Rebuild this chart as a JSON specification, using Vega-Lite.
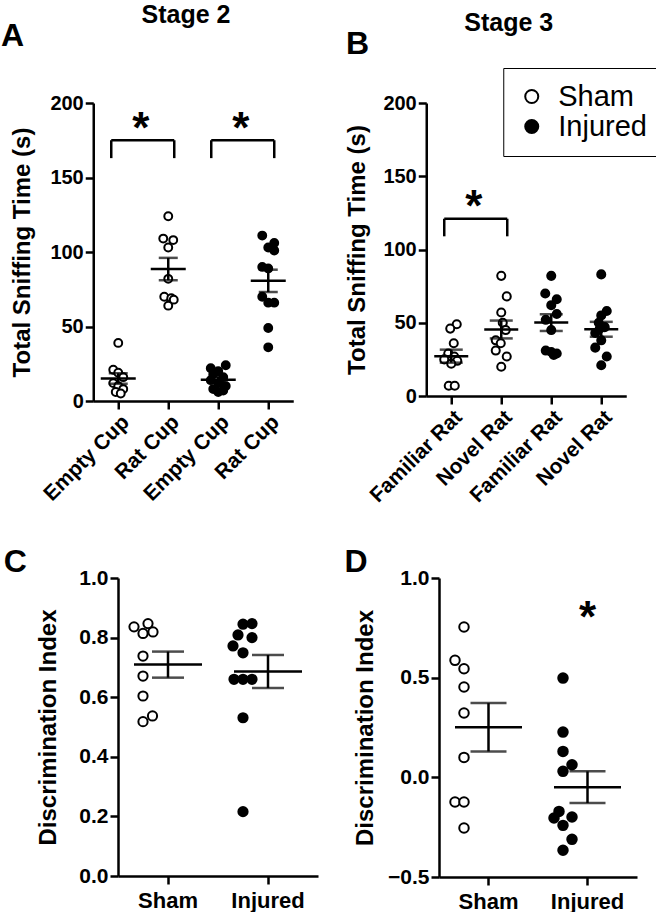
{
  "$schema": "https://vega.github.io/schema/vega-lite/v6.json",
  "padding": {"left": 0, "top": 3, "right": 0, "bottom": 0},
  "background": "white",
  "config": {
    "font": "Liberation Sans",
    "view": {"stroke": null},
    "axis": {"domainColor": "black", "domainWidth": 2.5, "tickColor": "black", "tickWidth": 2.5, "tickSize": 8, "labelFont": "Liberation Sans", "labelFontWeight": "bold", "labelColor": "black", "labelFontSize": 20, "labelPadding": 2, "titleFont": "Liberation Sans", "titleFontWeight": "bold", "titleFontSize": 24, "titleColor": "black", "grid": false},
    "title": {"font": "Liberation Sans", "fontWeight": "bold", "color": "black"}
  },
  "datasets": {
    "A": [
      {"k": "S Empty Cup", "g": "Sham", "v": 39, "j": 0}, {"k": "S Empty Cup", "g": "Sham", "v": 21, "j": -1}, {"k": "S Empty Cup", "g": "Sham", "v": 19, "j": 0}, {"k": "S Empty Cup", "g": "Sham", "v": 16, "j": 1}, {"k": "S Empty Cup", "g": "Sham", "v": 12, "j": -1}, {"k": "S Empty Cup", "g": "Sham", "v": 10, "j": 0}, {"k": "S Empty Cup", "g": "Sham", "v": 8, "j": 1}, {"k": "S Empty Cup", "g": "Sham", "v": 6, "j": -0.5}, {"k": "S Empty Cup", "g": "Sham", "v": 5, "j": 0.5},
      {"k": "S Rat Cup", "g": "Sham", "v": 124, "j": 0}, {"k": "S Rat Cup", "g": "Sham", "v": 109, "j": -1}, {"k": "S Rat Cup", "g": "Sham", "v": 108, "j": 1}, {"k": "S Rat Cup", "g": "Sham", "v": 103, "j": 0}, {"k": "S Rat Cup", "g": "Sham", "v": 82, "j": 0}, {"k": "S Rat Cup", "g": "Sham", "v": 70, "j": -0.8}, {"k": "S Rat Cup", "g": "Sham", "v": 69, "j": 0.6}, {"k": "S Rat Cup", "g": "Sham", "v": 68, "j": 1.1}, {"k": "S Rat Cup", "g": "Sham", "v": 64, "j": 0},
      {"k": "I Empty Cup", "g": "Injured", "v": 24, "j": 1.5}, {"k": "I Empty Cup", "g": "Injured", "v": 22, "j": -1.5}, {"k": "I Empty Cup", "g": "Injured", "v": 20, "j": 0}, {"k": "I Empty Cup", "g": "Injured", "v": 18, "j": -1}, {"k": "I Empty Cup", "g": "Injured", "v": 16, "j": 1}, {"k": "I Empty Cup", "g": "Injured", "v": 14, "j": -1.5}, {"k": "I Empty Cup", "g": "Injured", "v": 12, "j": 0}, {"k": "I Empty Cup", "g": "Injured", "v": 10, "j": 1.5}, {"k": "I Empty Cup", "g": "Injured", "v": 8, "j": -1}, {"k": "I Empty Cup", "g": "Injured", "v": 7, "j": 1}, {"k": "I Empty Cup", "g": "Injured", "v": 6, "j": 0},
      {"k": "I Rat Cup", "g": "Injured", "v": 111, "j": -1.2}, {"k": "I Rat Cup", "g": "Injured", "v": 106, "j": 1.2}, {"k": "I Rat Cup", "g": "Injured", "v": 103, "j": 0}, {"k": "I Rat Cup", "g": "Injured", "v": 101, "j": 1.2}, {"k": "I Rat Cup", "g": "Injured", "v": 90, "j": -1.2}, {"k": "I Rat Cup", "g": "Injured", "v": 89, "j": 0}, {"k": "I Rat Cup", "g": "Injured", "v": 70, "j": -1.2}, {"k": "I Rat Cup", "g": "Injured", "v": 66, "j": 0}, {"k": "I Rat Cup", "g": "Injured", "v": 66, "j": 1.2}, {"k": "I Rat Cup", "g": "Injured", "v": 49, "j": 0}, {"k": "I Rat Cup", "g": "Injured", "v": 36, "j": 0}
    ],
    "B": [
      {"k": "S Familiar Rat", "g": "Sham", "v": 49, "j": 1.1}, {"k": "S Familiar Rat", "g": "Sham", "v": 46, "j": -0.2}, {"k": "S Familiar Rat", "g": "Sham", "v": 36, "j": 0.5}, {"k": "S Familiar Rat", "g": "Sham", "v": 29, "j": -0.6}, {"k": "S Familiar Rat", "g": "Sham", "v": 27, "j": 0.6}, {"k": "S Familiar Rat", "g": "Sham", "v": 25, "j": -1.4}, {"k": "S Familiar Rat", "g": "Sham", "v": 24, "j": 1.2}, {"k": "S Familiar Rat", "g": "Sham", "v": 22, "j": 0}, {"k": "S Familiar Rat", "g": "Sham", "v": 7, "j": -0.5}, {"k": "S Familiar Rat", "g": "Sham", "v": 7, "j": 0.7},
      {"k": "S Novel Rat", "g": "Sham", "v": 82, "j": 0}, {"k": "S Novel Rat", "g": "Sham", "v": 68, "j": 1.1}, {"k": "S Novel Rat", "g": "Sham", "v": 57, "j": 0}, {"k": "S Novel Rat", "g": "Sham", "v": 50, "j": 0.3}, {"k": "S Novel Rat", "g": "Sham", "v": 45, "j": 0.9}, {"k": "S Novel Rat", "g": "Sham", "v": 38, "j": -1.1}, {"k": "S Novel Rat", "g": "Sham", "v": 36, "j": -0.1}, {"k": "S Novel Rat", "g": "Sham", "v": 31, "j": -1.1}, {"k": "S Novel Rat", "g": "Sham", "v": 27, "j": 1.1}, {"k": "S Novel Rat", "g": "Sham", "v": 20, "j": 0},
      {"k": "I Familiar Rat", "g": "Injured", "v": 82, "j": 0}, {"k": "I Familiar Rat", "g": "Injured", "v": 70, "j": -1.2}, {"k": "I Familiar Rat", "g": "Injured", "v": 66, "j": 1.1}, {"k": "I Familiar Rat", "g": "Injured", "v": 62, "j": 0}, {"k": "I Familiar Rat", "g": "Injured", "v": 56, "j": 1.1}, {"k": "I Familiar Rat", "g": "Injured", "v": 52, "j": -1.1}, {"k": "I Familiar Rat", "g": "Injured", "v": 45, "j": 0}, {"k": "I Familiar Rat", "g": "Injured", "v": 31, "j": -1.1}, {"k": "I Familiar Rat", "g": "Injured", "v": 30, "j": 0}, {"k": "I Familiar Rat", "g": "Injured", "v": 29, "j": 1.1}, {"k": "I Familiar Rat", "g": "Injured", "v": 28, "j": 0.5},
      {"k": "I Novel Rat", "g": "Injured", "v": 83, "j": 0}, {"k": "I Novel Rat", "g": "Injured", "v": 58, "j": 1.1}, {"k": "I Novel Rat", "g": "Injured", "v": 55, "j": 0}, {"k": "I Novel Rat", "g": "Injured", "v": 50, "j": -0.5}, {"k": "I Novel Rat", "g": "Injured", "v": 47, "j": 0.7}, {"k": "I Novel Rat", "g": "Injured", "v": 46, "j": -0.3}, {"k": "I Novel Rat", "g": "Injured", "v": 43, "j": -1.2}, {"k": "I Novel Rat", "g": "Injured", "v": 38, "j": 0}, {"k": "I Novel Rat", "g": "Injured", "v": 33, "j": -1.2}, {"k": "I Novel Rat", "g": "Injured", "v": 27, "j": 1.1}, {"k": "I Novel Rat", "g": "Injured", "v": 21, "j": 0}
    ],
    "C": [
      {"g": "Sham", "v": 0.836, "j": -1.8}, {"g": "Sham", "v": 0.847, "j": 1}, {"g": "Sham", "v": 0.814, "j": 0}, {"g": "Sham", "v": 0.819, "j": 2}, {"g": "Sham", "v": 0.738, "j": 0}, {"g": "Sham", "v": 0.671, "j": 0}, {"g": "Sham", "v": 0.604, "j": 0}, {"g": "Sham", "v": 0.518, "j": 0}, {"g": "Sham", "v": 0.537, "j": 1.9},
      {"g": "Injured", "v": 0.845, "j": 0}, {"g": "Injured", "v": 0.847, "j": 1.8}, {"g": "Injured", "v": 0.809, "j": -1}, {"g": "Injured", "v": 0.8, "j": 1.8}, {"g": "Injured", "v": 0.772, "j": -2}, {"g": "Injured", "v": 0.749, "j": 0}, {"g": "Injured", "v": 0.66, "j": -1.8}, {"g": "Injured", "v": 0.66, "j": 0}, {"g": "Injured", "v": 0.66, "j": 1.8}, {"g": "Injured", "v": 0.531, "j": 0}, {"g": "Injured", "v": 0.216, "j": 0}
    ],
    "D": [
      {"g": "Sham", "v": 0.754, "j": 0}, {"g": "Sham", "v": 0.587, "j": -1.8}, {"g": "Sham", "v": 0.545, "j": 0}, {"g": "Sham", "v": 0.453, "j": 0}, {"g": "Sham", "v": 0.323, "j": 0}, {"g": "Sham", "v": 0.1, "j": 0}, {"g": "Sham", "v": -0.124, "j": -1.8}, {"g": "Sham", "v": -0.124, "j": 0}, {"g": "Sham", "v": -0.254, "j": 0},
      {"g": "Injured", "v": 0.498, "j": 0}, {"g": "Injured", "v": 0.227, "j": 0}, {"g": "Injured", "v": 0.13, "j": 0}, {"g": "Injured", "v": 0.063, "j": 1.8}, {"g": "Injured", "v": 0.03, "j": 0}, {"g": "Injured", "v": -0.171, "j": -0.8}, {"g": "Injured", "v": -0.204, "j": -1.8}, {"g": "Injured", "v": -0.199, "j": 1.8}, {"g": "Injured", "v": -0.241, "j": 0}, {"g": "Injured", "v": -0.311, "j": 1.8}, {"g": "Injured", "v": -0.366, "j": 0}
    ],
    "brA": [{"a": "S Empty Cup", "b": "S Rat Cup", "lo": 163, "hi": 175, "s": 182, "t": "*"}, {"a": "I Empty Cup", "b": "I Rat Cup", "lo": 163, "hi": 175, "s": 182, "t": "*"}],
    "brB": [{"a": "S Familiar Rat", "b": "S Novel Rat", "lo": 109, "hi": 121, "s": 128, "t": "*"}],
    "stD": [{"g": "Injured", "s": 0.796, "t": "*"}]
  },
  "resolve": {"scale": {"fill": "independent"}, "legend": {"fill": "independent"}},
  "center": true,
  "vconcat": [
    {
      "resolve": {"scale": {"fill": "independent"}, "legend": {"fill": "independent"}},
      "hconcat": [
        {
          "title": {"text": "Stage 2", "fontSize": 25, "anchor": "middle", "offset": -8, "dx": 39},
          "vconcat": [
            {
              "title": {"text": "A", "fontSize": 32, "anchor": "start", "offset": 40, "dx": -10},
              "width": 200, "height": 298,
              "data": {"name": "A"},
              "encoding": {
                "x": {"field": "k", "type": "nominal", "scale": {"type": "band", "domain": ["S Empty Cup", "S Rat Cup", "I Empty Cup", "I Rat Cup"], "paddingInner": 0, "paddingOuter": 0}, "axis": {"title": null, "labelAngle": -45, "labelFontSize": 21, "labelExpr": "slice(datum.label, 2)"}}
              },
              "layer": [
                {"mark": {"type": "point", "shape": "circle", "filled": true, "stroke": "black", "strokeWidth": 2, "size": 62, "opacity": 1},
                 "encoding": {
                   "xOffset": {"field": "j", "type": "quantitative", "scale": {"domain": [-3, 3], "range": [0, 50]}},
                   "y": {"field": "v", "type": "quantitative", "title": "Total Sniffing Time (s)", "scale": {"domain": [0, 200], "nice": false}, "axis": {"values": [0, 50, 100, 150, 200], "titlePadding": 15}},
                   "fill": {"field": "g", "type": "nominal", "scale": {"domain": ["Sham", "Injured"], "range": ["white", "black"]}, "legend": null}
                 }},
                {"mark": {"type": "tick", "color": "black", "thickness": 2.5, "size": 35},
                 "encoding": {"y": {"aggregate": "mean", "field": "v", "type": "quantitative", "title": "Total Sniffing Time (s)"}}},
                {"mark": {"type": "errorbar", "extent": "stderr", "ticks": {"size": 19, "color": "black"}, "thickness": 2.5, "color": "black"},
                 "encoding": {"y": {"field": "v", "type": "quantitative", "title": "Total Sniffing Time (s)"}}},
                {"data": {"name": "brA"}, "mark": {"type": "rule", "color": "black", "strokeWidth": 2.5},
                 "encoding": {"x": {"field": "a", "type": "nominal", "bandPosition": 0.36}, "x2": {"field": "b", "bandPosition": 0.62}, "y": {"field": "hi", "type": "quantitative", "title": "Total Sniffing Time (s)"}}},
                {"data": {"name": "brA"}, "mark": {"type": "rule", "color": "black", "strokeWidth": 2.5},
                 "encoding": {"x": {"field": "a", "type": "nominal", "bandPosition": 0.36}, "y": {"field": "lo", "type": "quantitative", "title": "Total Sniffing Time (s)"}, "y2": {"field": "hi"}}},
                {"data": {"name": "brA"}, "mark": {"type": "rule", "color": "black", "strokeWidth": 2.5},
                 "encoding": {"x": {"field": "b", "type": "nominal", "bandPosition": 0.62}, "y": {"field": "lo", "type": "quantitative", "title": "Total Sniffing Time (s)"}, "y2": {"field": "hi"}}},
                {"data": {"name": "brA"}, "mark": {"type": "text", "fontSize": 44, "fontWeight": "bold", "font": "Liberation Sans", "color": "black", "baseline": "middle", "align": "center"},
                 "encoding": {"x": {"field": "a", "type": "nominal", "bandPosition": 0.95}, "y": {"field": "s", "type": "quantitative", "title": "Total Sniffing Time (s)"}, "text": {"field": "t"}}}
              ]
            }
          ]
        },
        {
          "title": {"text": "Stage 3", "fontSize": 25, "anchor": "middle", "offset": -8, "dx": 5},
          "resolve": {"scale": {"fill": "independent"}, "legend": {"fill": "independent"}},
          "vconcat": [
            {
              "title": {"text": "B", "fontSize": 32, "anchor": "start", "offset": 7, "dx": 0},
              "width": 200, "height": 293,
              "data": {"name": "B"},
              "encoding": {
                "x": {"field": "k", "type": "nominal", "scale": {"type": "band", "domain": ["S Familiar Rat", "S Novel Rat", "I Familiar Rat", "I Novel Rat"], "paddingInner": 0, "paddingOuter": 0}, "axis": {"title": null, "labelAngle": -45, "labelFontSize": 21, "labelExpr": "slice(datum.label, 2)"}}
              },
              "layer": [
                {"mark": {"type": "point", "shape": "circle", "filled": true, "stroke": "black", "strokeWidth": 2, "size": 65, "opacity": 1},
                 "encoding": {
                   "xOffset": {"field": "j", "type": "quantitative", "scale": {"domain": [-3, 3], "range": [0, 50]}},
                   "y": {"field": "v", "type": "quantitative", "title": "Total Sniffing Time (s)", "scale": {"domain": [0, 200], "nice": false}, "axis": {"values": [0, 50, 100, 150, 200], "titlePadding": 13}},
                   "fill": {"field": "g", "type": "nominal", "scale": {"domain": ["Sham", "Injured"], "range": ["white", "black"]}, "legend": {"title": null, "orient": "top-right", "offset": -35, "strokeColor": "black", "padding": 14, "labelFontSize": 29, "labelFont": "Liberation Sans", "labelFontWeight": "normal", "labelColor": "black", "symbolType": "circle", "symbolSize": 170, "symbolStrokeColor": "black", "symbolStrokeWidth": 2, "rowPadding": 0, "labelOffset": 12, "fillColor": "white"}}
                 }},
                {"mark": {"type": "tick", "color": "black", "thickness": 2.5, "size": 34},
                 "encoding": {"y": {"aggregate": "mean", "field": "v", "type": "quantitative", "title": "Total Sniffing Time (s)"}}},
                {"mark": {"type": "errorbar", "extent": "stderr", "ticks": {"size": 23, "color": "black"}, "thickness": 2.5, "color": "black"},
                 "encoding": {"y": {"field": "v", "type": "quantitative", "title": "Total Sniffing Time (s)"}}},
                {"data": {"name": "brB"}, "mark": {"type": "rule", "color": "black", "strokeWidth": 2.5},
                 "encoding": {"x": {"field": "a", "type": "nominal", "bandPosition": 0.36}, "x2": {"field": "b", "bandPosition": 0.62}, "y": {"field": "hi", "type": "quantitative", "title": "Total Sniffing Time (s)"}}},
                {"data": {"name": "brB"}, "mark": {"type": "rule", "color": "black", "strokeWidth": 2.5},
                 "encoding": {"x": {"field": "a", "type": "nominal", "bandPosition": 0.36}, "y": {"field": "lo", "type": "quantitative", "title": "Total Sniffing Time (s)"}, "y2": {"field": "hi"}}},
                {"data": {"name": "brB"}, "mark": {"type": "rule", "color": "black", "strokeWidth": 2.5},
                 "encoding": {"x": {"field": "b", "type": "nominal", "bandPosition": 0.62}, "y": {"field": "lo", "type": "quantitative", "title": "Total Sniffing Time (s)"}, "y2": {"field": "hi"}}},
                {"data": {"name": "brB"}, "mark": {"type": "text", "fontSize": 44, "fontWeight": "bold", "font": "Liberation Sans", "color": "black", "baseline": "middle", "align": "center"},
                 "encoding": {"x": {"field": "a", "type": "nominal", "bandPosition": 0.95}, "y": {"field": "s", "type": "quantitative", "title": "Total Sniffing Time (s)"}, "text": {"field": "t"}}}
              ]
            }
          ]
        }
      ],
      "spacing": 52
    },
    {
      "resolve": {"scale": {"fill": "independent"}, "legend": {"fill": "independent"}},
      "hconcat": [
        {
          "title": {"text": "C", "fontSize": 32, "anchor": "start", "offset": -12, "dx": -33},
          "width": 200, "height": 298,
          "data": {"name": "C"},
          "encoding": {
            "x": {"field": "g", "type": "nominal", "scale": {"type": "band", "domain": ["Sham", "Injured"], "paddingInner": 0, "paddingOuter": 0}, "axis": {"title": null, "labelAngle": 0, "labelFontSize": 22, "labelPadding": 6}}
          },
          "layer": [
            {"mark": {"type": "point", "shape": "circle", "filled": true, "stroke": "black", "strokeWidth": 2, "size": 85, "opacity": 1},
             "encoding": {
               "xOffset": {"field": "j", "type": "quantitative", "scale": {"domain": [-5, 5], "range": [0, 100]}},
               "y": {"field": "v", "type": "quantitative", "title": "Discrimination Index", "scale": {"domain": [0, 1], "nice": false}, "axis": {"values": [0, 0.2, 0.4, 0.6, 0.8, 1.0], "format": ".1f", "labelFontSize": 21, "titlePadding": 18}},
               "fill": {"field": "g", "type": "nominal", "scale": {"domain": ["Sham", "Injured"], "range": ["white", "black"]}, "legend": null}
             }},
            {"mark": {"type": "tick", "color": "black", "thickness": 2.5, "size": 68},
             "encoding": {"y": {"aggregate": "mean", "field": "v", "type": "quantitative", "title": "Discrimination Index"}}},
            {"mark": {"type": "errorbar", "extent": "stderr", "ticks": {"size": 32, "color": "black"}, "thickness": 2.5, "color": "black"},
             "encoding": {"y": {"field": "v", "type": "quantitative", "title": "Discrimination Index"}}}
          ]
        },
        {
          "title": {"text": "D", "fontSize": 32, "anchor": "start", "offset": -12, "dx": -9},
          "width": 198, "height": 299,
          "data": {"name": "D"},
          "encoding": {
            "x": {"field": "g", "type": "nominal", "scale": {"type": "band", "domain": ["Sham", "Injured"], "paddingInner": 0, "paddingOuter": 0}, "axis": {"title": null, "labelAngle": 0, "labelFontSize": 22, "labelPadding": 6}}
          },
          "layer": [
            {"mark": {"type": "point", "shape": "circle", "filled": true, "stroke": "black", "strokeWidth": 2, "size": 90, "opacity": 1},
             "encoding": {
               "xOffset": {"field": "j", "type": "quantitative", "scale": {"domain": [-5, 5], "range": [0, 99]}},
               "y": {"field": "v", "type": "quantitative", "title": "Discrimination Index", "scale": {"domain": [-0.5, 1], "nice": false}, "axis": {"values": [-0.5, 0, 0.5, 1.0], "format": ".1f", "labelFontSize": 21, "titlePadding": 10}},
               "fill": {"field": "g", "type": "nominal", "scale": {"domain": ["Sham", "Injured"], "range": ["white", "black"]}, "legend": null}
             }},
            {"mark": {"type": "tick", "color": "black", "thickness": 2.5, "size": 67},
             "encoding": {"y": {"aggregate": "mean", "field": "v", "type": "quantitative", "title": "Discrimination Index"}}},
            {"mark": {"type": "errorbar", "extent": "stderr", "ticks": {"size": 36, "color": "black"}, "thickness": 2.5, "color": "black"},
             "encoding": {"y": {"field": "v", "type": "quantitative", "title": "Discrimination Index"}}},
            {"data": {"name": "stD"}, "mark": {"type": "text", "fontSize": 44, "fontWeight": "bold", "font": "Liberation Sans", "color": "black", "baseline": "middle", "align": "center"},
             "encoding": {"y": {"field": "s", "type": "quantitative", "title": "Discrimination Index"}, "text": {"field": "t"}}}
          ]
        }
      ],
      "spacing": 26
    }
  ],
  "spacing": 40
}
